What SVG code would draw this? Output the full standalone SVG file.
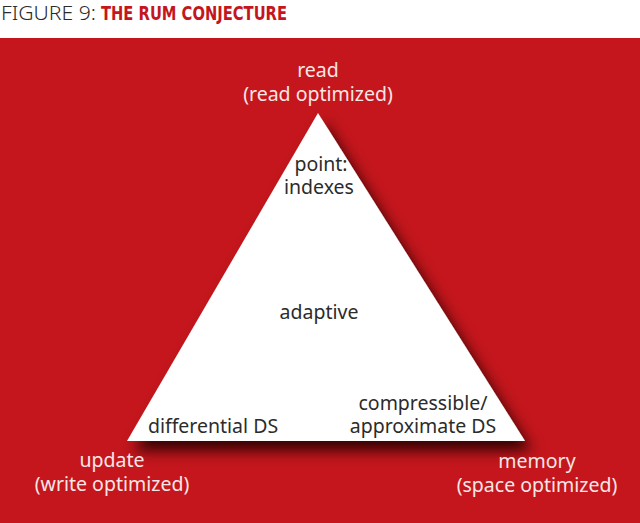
<svg xmlns="http://www.w3.org/2000/svg" width="640" height="523" viewBox="0 0 640 523">
<defs>
<style>
.lbl{font-family:"Noto Sans","Open Sans",sans-serif;font-size:19.5px;text-anchor:middle}
.out{fill:#f8e6e6}
.in{fill:#2b2b2b}
</style>
<filter id="sh" x="-20%" y="-20%" width="150%" height="150%">
<feDropShadow dx="7" dy="10" stdDeviation="7" flood-color="#2a0000" flood-opacity="0.9"/>
</filter>
</defs>
<rect x="0" y="0" width="640" height="523" fill="#ffffff"/>
<text x="1" y="20" font-family="'Noto Sans','Open Sans',sans-serif" font-size="20" font-weight="300" fill="#2b2b2b" textLength="95" lengthAdjust="spacingAndGlyphs">FIGURE 9:</text>
<text x="101" y="20" font-family="'DejaVu Sans Condensed','DejaVu Sans',sans-serif" font-size="20" font-weight="bold" fill="#c4161c" textLength="186" lengthAdjust="spacingAndGlyphs">THE RUM CONJECTURE</text>
<rect x="0" y="38" width="640" height="485" fill="#c4161c"/>
<g id="triangle">
<polygon points="318,113 525,441 127,441" fill="#ffffff" filter="url(#sh)"/>
</g>
<g id="connectors"/>
<g id="read">
<text class="lbl out" x="318" y="77">read</text>
<text class="lbl out" x="318" y="101">(read optimized)</text>
</g>
<g id="update">
<text class="lbl out" x="112" y="467">update</text>
<text class="lbl out" x="112" y="491">(write optimized)</text>
</g>
<g id="memory">
<text class="lbl out" x="537" y="468">memory</text>
<text class="lbl out" x="537" y="492">(space optimized)</text>
</g>
<g id="point">
<text class="lbl in" x="321" y="171">point:</text>
<text class="lbl in" x="319" y="194">indexes</text>
</g>
<g id="adaptive">
<text class="lbl in" x="319" y="319">adaptive</text>
</g>
<g id="differential">
<text class="lbl in" x="213" y="433">differential DS</text>
</g>
<g id="compressible">
<text class="lbl in" x="423" y="410">compressible/</text>
<text class="lbl in" x="423" y="433">approximate DS</text>
</g>
</svg>
